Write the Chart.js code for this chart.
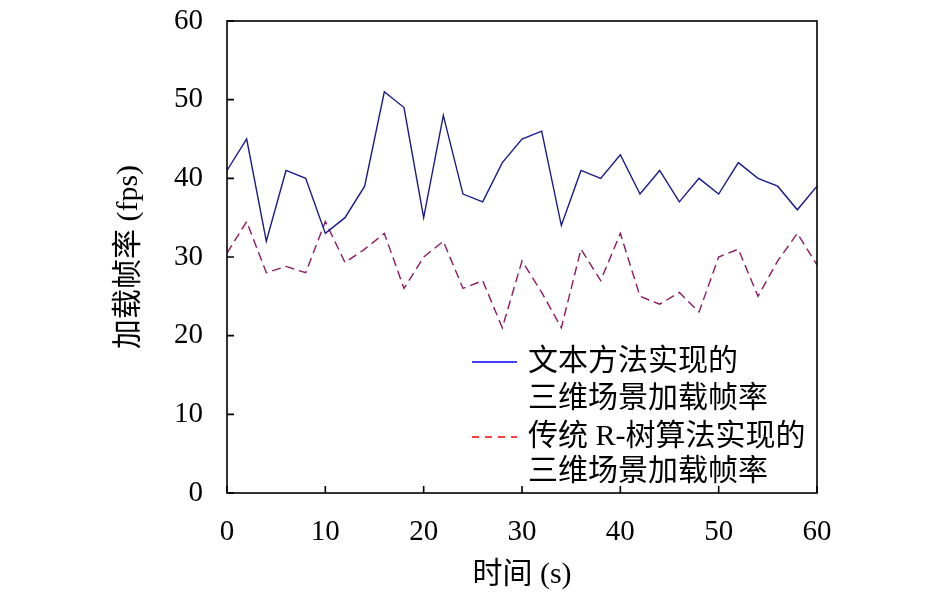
<!DOCTYPE html>
<html>
<head>
<meta charset="utf-8">
<script src="https://cdn.jsdelivr.net/npm/chart.js@4.4.1/dist/chart.umd.min.js"></script>
<style>
  html, body { margin: 0; padding: 0; background: #fff; }
  #wrap { width: 945px; height: 601px; position: relative; }
</style>
</head>
<body>
<div id="wrap"><canvas id="fps"></canvas></div>
<script>
// время, с
let times = [0,2,4,6,8,10,12,14,16,18,20,22,24,26,28,30,32,34,36,38,40,42,44,46,48,50,52,54,56,58,60];
// кадров в секунду, предложенный метод
let fpsNew = [41,45,32,41,40,33,35,39,51,49,35,48,38,37,42,45,46,34,41,40,43,38,41,37,40,38,42,40,39,36,39];
// кадров в секунду, R-дерево
let fpsRtree = [30.5,34.5,28,28.8,28,34.5,29.3,31,33,26,30,32,26,27,21,29.5,25.5,21,31,27,33,25,24,25.5,23,30,31,25,29.5,33,29];
let xTicks = [0,10,20,30,40,50,60];
let yTicks = [0,10,20,30,40,50,60];
let legendRows = [
  ['文本方法实现的', '三维场景加载帧率'],
  ['传统 R-树算法实现的', '三维场景加载帧率']
];

const FONT = "'Liberation Serif', 'Noto Sans CJK SC', serif";

// рамка, внутренние риски и легенда
const framePlugin = {
  id: 'frame',
  afterDraw(chart) {
    let ctx = chart.ctx;
    let a = chart.chartArea;
    let sx = chart.scales.x, sy = chart.scales.y;
    ctx.save();
    ctx.strokeStyle = '#000';
    ctx.lineWidth = 1.6;
    ctx.strokeRect(a.left, a.top, a.right - a.left, a.bottom - a.top);
    ctx.beginPath();
    for (let v of xTicks) {
      let px = sx.getPixelForValue(v);
      ctx.moveTo(px, a.bottom);
      ctx.lineTo(px, a.bottom - 7);
    }
    for (let v of yTicks) {
      let py = sy.getPixelForValue(v);
      ctx.moveTo(a.left, py);
      ctx.lineTo(a.left + 7, py);
    }
    ctx.stroke();

    // легенда
    let lx0 = 472, lx1 = 517, tx = 528;
    let rowY = [[362, 399], [437, 472]];
    let colors = ['#0000ff', '#ff0000'];
    ctx.lineWidth = 1.5;
    for (let i = 0; i < legendRows.length; i++) {
      ctx.strokeStyle = colors[i];
      ctx.setLineDash(i === 1 ? [7, 6] : []);
      ctx.beginPath();
      ctx.moveTo(lx0, rowY[i][0]);
      ctx.lineTo(lx1, rowY[i][0]);
      ctx.stroke();
      ctx.setLineDash([]);
      ctx.fillStyle = '#000';
      ctx.font = '30px ' + FONT;
      ctx.textBaseline = 'middle';
      ctx.textAlign = 'left';
      ctx.fillText(legendRows[i][0], tx, rowY[i][0]);
      ctx.fillText(legendRows[i][1], tx, rowY[i][1]);
    }
    ctx.restore();
  }
};

new Chart(document.getElementById('fps'), {
  type: 'line',
  data: {
    datasets: [
      {
        label: legendRows[0].join(''),
        data: times.map((t, i) => ({x: t, y: fpsNew[i]})),
        borderColor: '#1a1a8c',
        borderWidth: 1.4,
        pointRadius: 0,
        tension: 0,
        fill: false
      },
      {
        label: legendRows[1].join(''),
        data: times.map((t, i) => ({x: t, y: fpsRtree[i]})),
        borderColor: '#8c1a62',
        borderWidth: 1.4,
        borderDash: [9, 5],
        pointRadius: 0,
        tension: 0,
        fill: false
      }
    ]
  },
  options: {
    responsive: true,
    maintainAspectRatio: false,
    animation: false,
    devicePixelRatio: 1,
    layout: { padding: { top: 21, right: 128, left: 0, bottom: 0 } },
    plugins: { legend: { display: false }, tooltip: { enabled: false } },
    scales: {
      x: {
        type: 'linear',
        min: 0, max: 60,
        afterFit(s) { s.height = 108; s.paddingLeft = 0; s.paddingRight = 0; },
        afterBuildTicks(s) { s.ticks = xTicks.map(v => ({value: v})); },
        grid: { display: false, drawTicks: false },
        border: { display: false },
        ticks: { color: '#000', padding: 22, maxRotation: 0, font: { family: FONT, size: 29 } },
        title: { display: true, text: '时间 (s)', color: '#000', padding: { top: 10, bottom: 8 }, font: { family: FONT, size: 30 } }
      },
      y: {
        min: 0, max: 60,
        afterFit(s) { s.width = 227; s.paddingTop = 0; s.paddingBottom = 0; },
        afterBuildTicks(s) { s.ticks = yTicks.map(v => ({value: v})); },
        grid: { display: false, drawTicks: false },
        border: { display: false },
        ticks: { color: '#000', padding: 24, font: { family: FONT, size: 29 } },
        title: { display: true, text: '加载帧率 (fps)', color: '#000', padding: { top: 111, bottom: 0 }, font: { family: FONT, size: 30 } }
      }
    }
  },
  plugins: [framePlugin]
});
</script>
</body>
</html>
